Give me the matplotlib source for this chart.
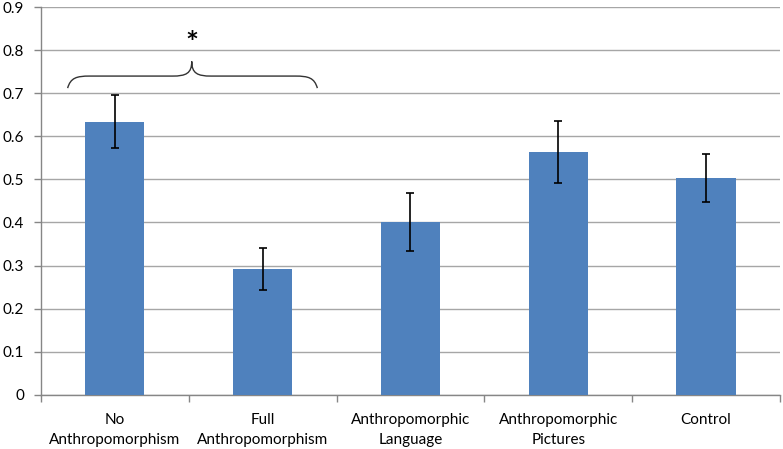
import numpy as np
import matplotlib
matplotlib.use('Agg')
import matplotlib.pyplot as plt
from matplotlib.path import Path
from matplotlib.patches import PathPatch

# %% data
labels = ['No\nAnthropomorphism', 'Full\nAnthropomorphism', 'Anthropomorphic\nLanguage',
          'Anthropomorphic\nPictures', 'Control']
means = [0.634, 0.291, 0.401, 0.563, 0.503]
errs = [0.061, 0.049, 0.067, 0.072, 0.055]

plt.rcParams['font.family'] = ['Lato', 'DejaVu Sans']

# %% figure
fig = plt.figure(figsize=(7.83, 4.49), dpi=100)
ax = fig.add_axes([0.0524, 0.121, 0.9436, 0.863])

x = np.arange(len(labels))
ax.bar(x, means, width=0.4, color='#4F81BD', zorder=3)
ax.errorbar(x, means, yerr=errs, fmt='none', ecolor='black', elinewidth=1.2,
            capsize=3, capthick=1.2, zorder=4)

ax.set_xlim(-0.5, len(labels) - 0.5)
ax.set_ylim(0, 0.9)
ax.set_yticks(np.arange(0, 0.91, 0.1))
ax.set_yticklabels(['0'] + ['%.1f' % v for v in np.arange(0.1, 0.91, 0.1)])
ax.yaxis.grid(True, color='#A6A6A6', lw=1.0, zorder=0)

# category labels between boundary ticks
ax.set_xticks(np.arange(-0.5, len(labels), 1.0))
ax.set_xticklabels([])
ax.set_xticks(x, minor=True)
ax.set_xticklabels(labels, minor=True, fontsize=11, linespacing=1.6)
ax.tick_params(axis='x', which='minor', length=0, pad=13)
ax.tick_params(axis='x', which='major', length=5, color='#868686', width=1)
ax.tick_params(axis='y', length=5, color='#868686', width=1, labelsize=11, pad=7)

for s in ['top', 'right']:
    ax.spines[s].set_visible(False)
for s in ['left', 'bottom']:
    ax.spines[s].set_color('#868686')
    ax.spines[s].set_linewidth(1.0)

# %% brace with significance star over the first two groups
xl, xr, xm = -0.32, 1.37, 0.52
ye, yh, yt = 0.712, 0.740, 0.774
verts = [(xl, ye),
         (xl + 0.02, yh - 0.004), (xl + 0.06, yh), (xl + 0.15, yh),
         (xm - 0.13, yh),
         (xm - 0.04, yh), (xm, yh + 0.006), (xm, yt),
         (xm, yh + 0.006), (xm + 0.04, yh), (xm + 0.13, yh),
         (xr - 0.15, yh),
         (xr - 0.06, yh), (xr - 0.02, yh - 0.004), (xr, ye)]
codes = [Path.MOVETO,
         Path.CURVE4, Path.CURVE4, Path.CURVE4,
         Path.LINETO,
         Path.CURVE4, Path.CURVE4, Path.CURVE4,
         Path.CURVE4, Path.CURVE4, Path.CURVE4,
         Path.LINETO,
         Path.CURVE4, Path.CURVE4, Path.CURVE4]
ax.add_patch(PathPatch(Path(verts, codes), fill=False, edgecolor='#333333',
                       lw=1.0, zorder=5, clip_on=False))
ax.text(xm, 0.815, '*', ha='center', va='center', fontsize=22,
        fontweight='bold', zorder=5)

plt.savefig('out.png', dpi=100)
